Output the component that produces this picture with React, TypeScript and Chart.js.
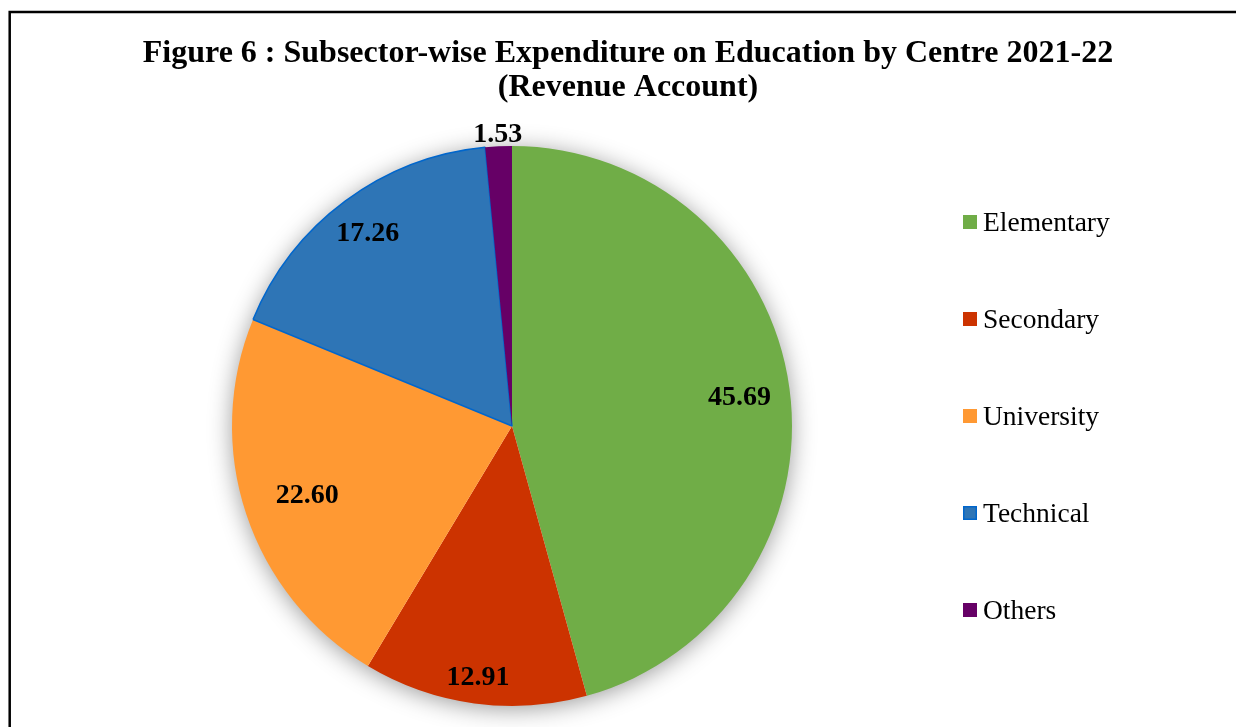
import React, { useEffect, useRef } from "react";
import { Chart, registerables } from "chart.js";

Chart.register(...registerables);

const titleLines = [
  "Figure 6 : Subsector-wise Expenditure on Education by Centre 2021-22",
  "(Revenue Account)",
];
const categories = ["Elementary", "Secondary", "University", "Technical", "Others"];
const shares = [45.69, 12.91, 22.6, 17.26, 1.53];
const sliceColors = ["#70AD47", "#CC3300", "#FF9933", "#2E75B6", "#660066"];
const sliceBorderColors = ["#70AD47", "#CC3300", "#FF9933", "#0066CC", "#660066"];
const sliceBorderWidths = [0, 0, 0, 1.5, 0];
const labelRadiusFactor = [0.82, 0.9, 0.77, 0.865, 1.05];

const SERIF = '"Liberation Serif", "Times New Roman", serif';

const decorPlugin = {
  id: "decor",
  beforeDatasetsDraw(chart: any) {
    const meta = chart.getDatasetMeta(0);
    const arc = meta.data[0];
    if (!arc) return;
    const { x, y, outerRadius } = arc.getProps(["x", "y", "outerRadius"], true);
    const ctx = chart.ctx;
    ctx.save();
    ctx.shadowColor = "rgba(0,0,0,0.42)";
    ctx.shadowBlur = 24;
    ctx.shadowOffsetX = 0;
    ctx.shadowOffsetY = 3;
    ctx.fillStyle = "#ffffff";
    ctx.beginPath();
    ctx.arc(x, y, outerRadius - 1, 0, Math.PI * 2);
    ctx.fill();
    ctx.restore();
  },
  afterDraw(chart: any) {
    const ctx = chart.ctx;
    ctx.save();
    // frame
    ctx.strokeStyle = "#000";
    ctx.lineWidth = 2.5;
    ctx.beginPath();
    ctx.moveTo(9.7, chart.height + 2);
    ctx.lineTo(9.7, 12);
    ctx.lineTo(chart.width + 2, 12);
    ctx.stroke();

    // title
    ctx.fillStyle = "#000";
    ctx.font = `bold 32px ${SERIF}`;
    ctx.textAlign = "center";
    ctx.textBaseline = "alphabetic";
    ctx.fillText(titleLines[0], 628, 62);
    ctx.fillText(titleLines[1], 628, 96);

    // data labels
    const meta = chart.getDatasetMeta(0);
    const ds = chart.data.datasets[0];
    ctx.font = `bold 28px ${SERIF}`;
    meta.data.forEach((el: any, i: number) => {
      const { x, y, startAngle, endAngle, outerRadius } = el.getProps(
        ["x", "y", "startAngle", "endAngle", "outerRadius"],
        true
      );
      const mid = (startAngle + endAngle) / 2;
      const r = outerRadius * labelRadiusFactor[i];
      const lx = x + Math.cos(mid) * r;
      const ly = y + Math.sin(mid) * r;
      ctx.fillText((ds.data[i] as number).toFixed(2), lx, ly + 9.5);
    });

    // legend
    ctx.textAlign = "left";
    ctx.font = `27.5px ${SERIF}`;
    chart.data.labels.forEach((lab: string, i: number) => {
      const by = 215 + i * 97;
      ctx.fillStyle = sliceColors[i];
      ctx.fillRect(963, by, 14, 14);
      if (sliceBorderWidths[i] > 0) {
        ctx.strokeStyle = sliceBorderColors[i];
        ctx.lineWidth = 1.5;
        ctx.strokeRect(963.75, by + 0.75, 12.5, 12.5);
      }
      ctx.fillStyle = "#000";
      ctx.fillText(lab, 983, 231 + i * 97);
    });
    ctx.restore();
  },
};

export default function App() {
  const ref = useRef<HTMLCanvasElement | null>(null);
  useEffect(() => {
    document.body.style.margin = "0";
    const canvas = ref.current;
    if (!canvas) return;
    const chart = new Chart(canvas, {
      type: "pie",
      data: {
        labels: categories,
        datasets: [
          {
            data: shares,
            backgroundColor: sliceColors,
            borderColor: sliceBorderColors,
            borderWidth: sliceBorderWidths,
          },
        ],
      },
      options: {
        responsive: false,
        animation: false,
        radius: 280,
        layout: { padding: { left: 222, right: 434, top: 146, bottom: 21 } },
        plugins: {
          legend: { display: false },
          title: { display: false },
          tooltip: { enabled: false },
        },
      } as any,
      plugins: [decorPlugin],
    });
    return () => chart.destroy();
  }, []);
  return (
    <div style={{ position: "absolute", left: 0, top: 0, width: 1236, height: 727, background: "#fff" }}>
      <canvas ref={ref} width={1236} height={727} style={{ display: "block" }} />
    </div>
  );
}
